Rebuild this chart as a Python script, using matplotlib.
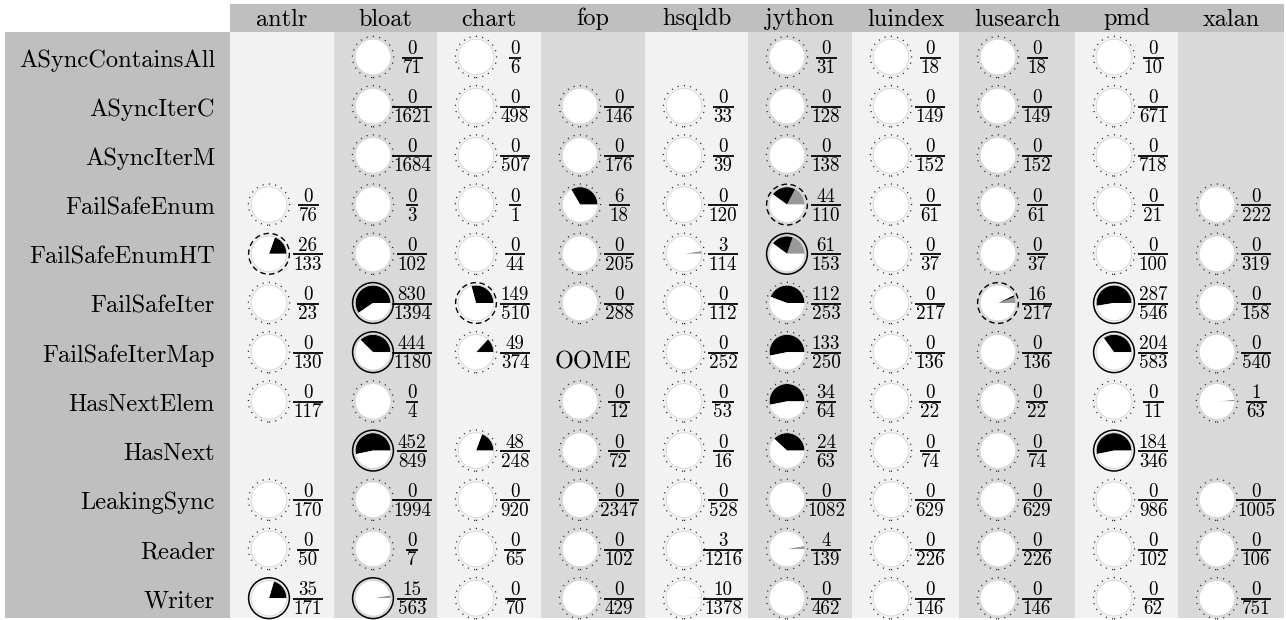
import matplotlib
matplotlib.use('Agg')
import matplotlib.pyplot as plt
from matplotlib.patches import Rectangle, Circle

plt.rcParams['font.family'] = ['cmr10', 'DejaVu Serif']

# data
benchmarks = ['antlr', 'bloat', 'chart', 'fop', 'hsqldb', 'jython',
              'luindex', 'lusearch', 'pmd', 'xalan']
properties = ['ASyncContainsAll', 'ASyncIterC', 'ASyncIterM', 'FailSafeEnum',
              'FailSafeEnumHT', 'FailSafeIter', 'FailSafeIterMap', 'HasNextElem',
              'HasNext', 'LeakingSync', 'Reader', 'Writer']

# denominators, one row per property (None = no entry)
totals = [
    [None, 71, 6, None, None, 31, 18, 18, 10, None],
    [None, 1621, 498, 146, 33, 128, 149, 149, 671, None],
    [None, 1684, 507, 176, 39, 138, 152, 152, 718, None],
    [76, 3, 1, 18, 120, 110, 61, 61, 21, 222],
    [133, 102, 44, 205, 114, 153, 37, 37, 100, 319],
    [23, 1394, 510, 288, 112, 253, 217, 217, 546, 158],
    [130, 1180, 374, 'OOME', 252, 250, 136, 136, 583, 540],
    [117, 4, None, 12, 53, 64, 22, 22, 11, 63],
    [None, 849, 248, 72, 16, 63, 74, 74, 346, None],
    [170, 1994, 920, 2347, 528, 1082, 629, 629, 986, 1005],
    [50, 7, 65, 102, 1216, 139, 226, 226, 102, 106],
    [171, 563, 70, 429, 1378, 462, 146, 146, 62, 751],
]

# numerators
hits = [
    [0, 0, 0, 0, 0, 0, 0, 0, 0, 0],
    [0, 0, 0, 0, 0, 0, 0, 0, 0, 0],
    [0, 0, 0, 0, 0, 0, 0, 0, 0, 0],
    [0, 0, 0, 6, 0, 44, 0, 0, 0, 0],
    [26, 0, 0, 0, 3, 61, 0, 0, 0, 0],
    [0, 830, 149, 0, 0, 112, 0, 16, 287, 0],
    [0, 444, 49, 0, 0, 133, 0, 0, 204, 0],
    [0, 0, 0, 0, 0, 34, 0, 0, 0, 1],
    [0, 452, 48, 0, 0, 24, 0, 0, 184, 0],
    [0, 0, 0, 0, 0, 0, 0, 0, 0, 0],
    [0, 0, 0, 0, 3, 4, 0, 0, 0, 0],
    [35, 15, 0, 0, 10, 0, 0, 0, 0, 0],
]

# part of the numerator shown in gray (estimated)
gray_part = {
    ('jython', 'FailSafeEnum'): 19,
    ('jython', 'FailSafeEnumHT'): 30,
    ('lusearch', 'FailSafeIter'): 12,
    ('bloat', 'Writer'): 15,
    ('hsqldb', 'FailSafeEnumHT'): 3,
    ('hsqldb', 'Reader'): 3,
    ('hsqldb', 'Writer'): 10,
    ('jython', 'Reader'): 4,
    ('xalan', 'HasNextElem'): 1,
}

dashed_cells = [('antlr', 'FailSafeEnumHT'), ('chart', 'FailSafeIter'),
                ('jython', 'FailSafeEnum'), ('lusearch', 'FailSafeIter')]
solid_cells = [('antlr', 'Writer'), ('bloat', 'FailSafeIter'),
               ('bloat', 'FailSafeIterMap'), ('bloat', 'HasNext'),
               ('bloat', 'Writer'), ('jython', 'FailSafeEnumHT'),
               ('pmd', 'FailSafeIter'), ('pmd', 'FailSafeIterMap'),
               ('pmd', 'HasNext')]

# layout (pixels)
W, H = 1286, 620
col_widths = [104, 103, 104, 104, 103, 104, 107, 116, 103, 106]
left0 = 230
top_header, bottom_header = 4, 32
bottom_table = 618
row_first, row_step = 57, 49.2

fig = plt.figure(figsize=(W / 100, H / 100), dpi=100)
ax = fig.add_axes([0, 0, 1, 1])


def yy(y_screen):
    return H - y_screen


col_left = []
x = left0
for w in col_widths:
    col_left.append(x)
    x += w
right_edge = x

# backgrounds
ax.add_patch(Rectangle((left0, yy(bottom_header)), right_edge - left0,
                       bottom_header - top_header, fc='#bfbfbf', ec='none'))
ax.add_patch(Rectangle((5, yy(bottom_table)), left0 - 5,
                       bottom_table - bottom_header, fc='#bfbfbf', ec='none'))
for j, (cl, w) in enumerate(zip(col_left, col_widths)):
    fc = '#f2f2f2' if j % 2 == 0 else '#d9d9d9'
    ax.add_patch(Rectangle((cl, yy(bottom_table)), w,
                           bottom_table - bottom_header, fc=fc, ec='none'))
    ax.text(cl + w / 2, yy(25.5), benchmarks[j], ha='center', va='baseline',
            fontsize=17.5)

for i, prop in enumerate(properties):
    cy = yy(row_first + row_step * i)
    ax.text(215, cy - 9.5, prop, ha='right', va='baseline', fontsize=17.6)

renderer = fig.canvas.get_renderer()

for i, prop in enumerate(properties):
    cy = yy(row_first + row_step * i)
    for j, bench in enumerate(benchmarks):
        tot = totals[i][j]
        if tot is None:
            continue
        cl = col_left[j]
        if tot == 'OOME':
            ax.text(cl + col_widths[j] / 2, cy - 16, 'OOME', ha='center',
                    va='baseline', fontsize=17.5)
            continue
        num = hits[i][j]
        g = gray_part.get((bench, prop), 0)
        cx = cl + 39
        ax.add_patch(Circle((cx, cy), 17.8, fc='white', ec='none', zorder=2))
        ax.pie([g, num - g, tot - num], colors=['#999999', 'black', 'white'],
               radius=17.8, center=(cx, cy), startangle=0, counterclock=True,
               frame=True, wedgeprops={'linewidth': 0, 'zorder': 3})
        ax.add_patch(Circle((cx, cy), 17.8, fill=False, ec='#d4d4d4',
                            lw=0.6, zorder=4))
        if (bench, prop) in solid_cells:
            ax.add_patch(Circle((cx, cy), 20.4, fill=False, ec='black',
                                lw=1.1, zorder=5))
        elif (bench, prop) in dashed_cells:
            ax.add_patch(Circle((cx, cy), 20.4, fill=False, ec='black',
                                lw=1.0, ls=(0, (4, 2.6)), zorder=5))
        else:
            ax.add_patch(Circle((cx, cy), 20.6, fill=False, ec='#222222',
                                lw=0.9, ls=(0, (0.9, 4.2)), zorder=5))
        # fraction
        fx = cl + 78
        t1 = ax.text(fx, cy + 3.0, str(num), ha='center', va='baseline',
                     fontsize=13.7, zorder=6)
        t2 = ax.text(fx, cy - 16.0, str(tot), ha='center', va='baseline',
                     fontsize=13.7, zorder=6)
        bw = max(t1.get_window_extent(renderer).width,
                 t2.get_window_extent(renderer).width) + 2
        ax.plot([fx - bw / 2, fx + bw / 2], [cy - 0.6, cy - 0.6], color='black',
                lw=1.3, solid_capstyle='butt', zorder=6)

ax.set_xlim(0, W)
ax.set_ylim(0, H)
ax.set_aspect('auto')
ax.axis('off')

fig.savefig('out.png', dpi=100)
